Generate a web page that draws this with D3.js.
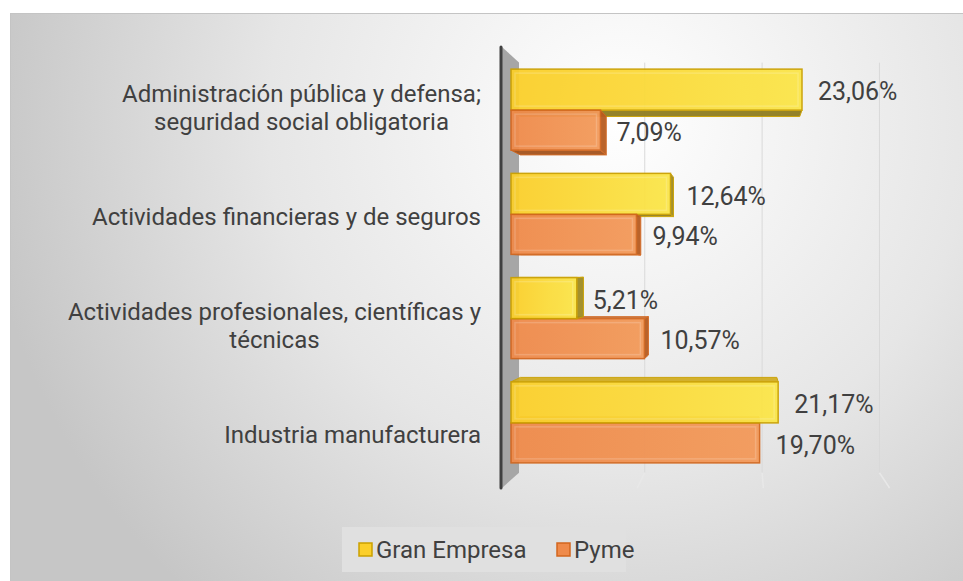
<!DOCTYPE html>
<html>
<head>
<meta charset="utf-8">
<script src="https://cdn.jsdelivr.net/npm/d3@7"></script>
<style>
  body { margin: 0; background: #fff; }
  svg text { font-family: Roboto, "Liberation Sans", sans-serif; fill: #404040; }
</style>
</head>
<body>
<div id="chart"></div>
<script>
// data
var categories = [
  "Administración pública y defensa; seguridad social obligatoria",
  "Actividades financieras y de seguros",
  "Actividades profesionales, científicas y técnicas",
  "Industria manufacturera"
];
var labelLines = [
  ["Administración pública y defensa;", "seguridad social obligatoria"],
  ["Actividades financieras y de seguros"],
  ["Actividades profesionales, científicas y", "técnicas"],
  ["Industria manufacturera"]
];
var seriesNames = ["Gran Empresa", "Pyme"];
var granEmpresa = [23.06, 12.64, 5.21, 21.17];
var pyme = [7.09, 9.94, 10.57, 19.70];
var gridTicks = [10, 20, 30];

var colors = {
  "Gran Empresa": {front: "#fbcf2a", light: "#fbe64a", stroke: "#caa000", side: "#8f7d1f"},
  "Pyme": {front: "#ef8a4a", light: "#f39a5a", stroke: "#d2661e", side: "#a4531d"}
};

var W = 963, H = 581;
var svg = d3.select("#chart").append("svg").attr("width", W).attr("height", H);

var defs = svg.append("defs");
var bg = defs.append("radialGradient").attr("id", "bg")
  .attr("gradientUnits", "userSpaceOnUse")
  .attr("cx", 620).attr("cy", 120).attr("r", 640);
bg.append("stop").attr("offset", "0").attr("stop-color", "#ffffff");
bg.append("stop").attr("offset", "0.55").attr("stop-color", "#e6e6e6");
bg.append("stop").attr("offset", "1").attr("stop-color", "#c6c6c6");

seriesNames.forEach(function (s, i) {
  var g = defs.append("linearGradient").attr("id", "grad" + i)
    .attr("x1", 0).attr("x2", 1).attr("y1", 0).attr("y2", 0);
  g.append("stop").attr("offset", "0").attr("stop-color", colors[s].front);
  g.append("stop").attr("offset", "1").attr("stop-color", colors[s].light);
});

// background panel
svg.append("rect").attr("x", 10).attr("y", 13).attr("width", W - 10).attr("height", H - 13)
  .attr("fill", "url(#bg)");
svg.append("line").attr("x1", 10).attr("x2", W).attr("y1", 13.5).attr("y2", 13.5)
  .attr("stroke", "#c4c4c4");
svg.append("line").attr("x1", 10.5).attr("x2", 10.5).attr("y1", 13).attr("y2", H)
  .attr("stroke", "#c4c4c4");

// scales
var x = d3.scaleLinear().domain([0, 23.06]).range([511, 802]);
var yGroup = d3.scaleBand().domain(categories).range([58, 475]);
var yLabel = d3.scaleBand().domain(categories).range([53, 489]);

// simple perspective: back face pulled toward a vanishing point
var vx = 745, vy = 270, kBar = 0.96, kWall = 0.93;
function back(p, k) { return [vx + (p[0] - vx) * k, vy + (p[1] - vy) * k]; }

var axisTop = 47, axisBottom = 488, axisX = 502;

// gridlines on back wall and floor
var grid = svg.append("g");
gridTicks.forEach(function (t) {
  var front = [x(t), axisBottom];
  var bTop = back([x(t), axisTop], kWall);
  var bBot = back([x(t), axisBottom], kWall);
  grid.append("line").attr("x1", bTop[0]).attr("y1", bTop[1]).attr("x2", bBot[0]).attr("y2", bBot[1])
    .attr("stroke", "#d9d9d9").attr("stroke-width", 1);
  grid.append("line").attr("x1", bBot[0]).attr("y1", bBot[1]).attr("x2", front[0]).attr("y2", front[1])
    .attr("stroke", "#e8e8e8").attr("stroke-width", 1.5);
});

// side wall of the category axis
var wt = back([axisX, axisTop], kWall), wb = back([axisX, axisBottom], kWall);
svg.append("polygon")
  .attr("points", [[axisX, axisTop], wt, wb, [axisX, axisBottom]].join(" "))
  .attr("fill", "#a6a6a6");
svg.append("line").attr("x1", axisX - 1).attr("x2", axisX - 1).attr("y1", axisTop).attr("y2", axisBottom)
  .attr("stroke", "#404040").attr("stroke-width", 3).attr("stroke-linecap", "round");

// bars
var bars = [];
categories.forEach(function (c, i) {
  var mid = yGroup(c) + yGroup.bandwidth() / 2;
  bars.push({cat: c, s: 0, name: "Gran Empresa", v: granEmpresa[i], y0: mid - 41, y1: mid});
  bars.push({cat: c, s: 1, name: "Pyme", v: pyme[i], y0: mid, y1: mid + 40});
});
// far-from-eye bars first
bars.sort(function (a, b) {
  return Math.abs((b.y0 + b.y1) / 2 - vy) - Math.abs((a.y0 + a.y1) / 2 - vy);
});

var barG = svg.append("g");
bars.forEach(function (d) {
  var x0 = x(0), x1 = x(d.v);
  var col = colors[d.name];
  var g = barG.append("g").attr("opacity", 0.95);
  var tl = [x0, d.y0], tr = [x1, d.y0], br = [x1, d.y1], bl = [x0, d.y1];
  var btl = back(tl, kBar), btr = back(tr, kBar), bbr = back(br, kBar), bbl = back(bl, kBar);
  // horizontal face (top or bottom)
  if (d.y1 < vy) {
    g.append("polygon").attr("points", [bl, br, bbr, bbl].join(" "))
      .attr("fill", col.side).attr("stroke", col.stroke).attr("stroke-width", 1);
  } else {
    g.append("polygon").attr("points", [tl, tr, btr, btl].join(" "))
      .attr("fill", d3.color(col.front).darker(0.5)).attr("stroke", col.stroke).attr("stroke-width", 1);
  }
  // right end face
  if (x1 < vx) {
    g.append("polygon").attr("points", [tr, btr, bbr, br].join(" "))
      .attr("fill", d3.color(col.side).brighter(0.3)).attr("stroke", col.stroke).attr("stroke-width", 1);
  }
  // front face
  g.append("rect").attr("x", x0).attr("y", d.y0).attr("width", x1 - x0).attr("height", d.y1 - d.y0)
    .attr("fill", "url(#grad" + d.s + ")").attr("stroke", col.stroke).attr("stroke-width", 1.5);
  // bevel highlight
  g.append("rect").attr("x", x0 + 4).attr("y", d.y0 + 4).attr("width", Math.max(0, x1 - x0 - 8)).attr("height", d.y1 - d.y0 - 8)
    .attr("fill", "none").attr("stroke", "#ffffff").attr("stroke-opacity", 0.18).attr("stroke-width", 1.5);
});

// value labels
bars.forEach(function (d) {
  svg.append("text")
    .attr("x", x(d.v) + 16)
    .attr("y", (d.y0 + d.y1) / 2 + 2)
    .attr("dy", "0.35em")
    .attr("font-size", 25)
    .text(d3.format(".2f")(d.v).replace(".", ",") + "%");
});

// category labels: block right-aligned, lines centred inside
var catG = svg.append("g");
categories.forEach(function (c, i) {
  var lines = labelLines[i];
  var t = catG.append("text").attr("font-size", 24).attr("text-anchor", "middle");
  var mid = yLabel(c) + yLabel.bandwidth() / 2;
  var lh = 28;
  lines.forEach(function (ln, j) {
    t.append("tspan").attr("y", mid + (j - (lines.length - 1) / 2) * lh).attr("dy", "0.35em").text(ln);
  });
  var maxW = d3.max(t.selectAll("tspan").nodes(), function (n) { return n.getComputedTextLength(); });
  var cx = 481 - maxW / 2;
  t.selectAll("tspan").attr("x", cx);
});

// legend
var leg = svg.append("g");
leg.append("rect").attr("x", 342).attr("y", 527).attr("width", 284).attr("height", 45).attr("fill", "#e0e0e0");
var legX = [359, 557];
seriesNames.forEach(function (s, i) {
  leg.append("rect").attr("x", legX[i]).attr("y", 543).attr("width", 13).attr("height", 13)
    .attr("fill", colors[s].front).attr("stroke", colors[s].stroke).attr("stroke-width", 1.5);
  leg.append("text").attr("x", legX[i] + 17).attr("y", 550).attr("dy", "0.35em")
    .attr("font-size", 24).text(s);
});
</script>
</body>
</html>
